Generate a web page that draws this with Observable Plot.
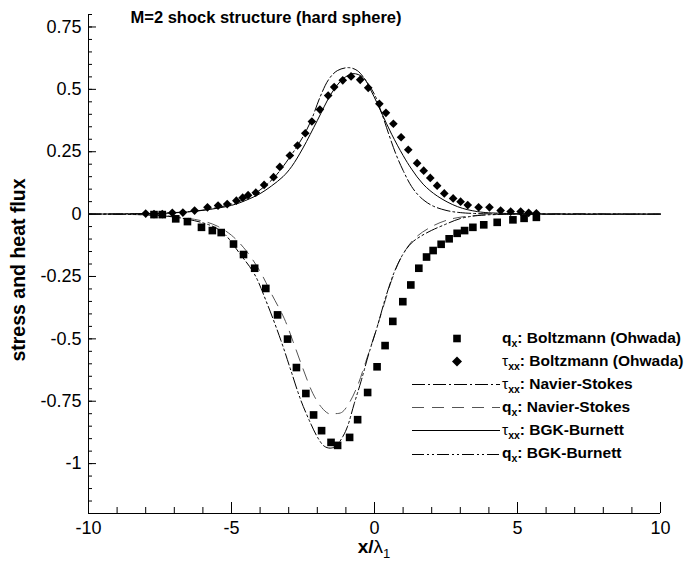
<!DOCTYPE html>
<html><head><meta charset="utf-8">
<script src="https://cdn.jsdelivr.net/npm/d3@7"></script>
<script src="https://cdn.jsdelivr.net/npm/@observablehq/plot@0.6"></script>
<style>
body{margin:0;background:#fff;}
#wrap{position:relative;width:688px;height:564px;font-family:"Liberation Sans",Arial,Helvetica,sans-serif;color:#000;overflow:hidden;}
.abs{position:absolute;white-space:nowrap;}
#title{left:266px;top:17px;font-weight:bold;font-size:16.5px;transform:translate(-50%,-50%);}
#ylab{left:18px;top:270px;font-weight:bold;font-size:19.5px;transform:translate(-50%,-50%) rotate(-90deg);}
#xlab{left:374px;top:548px;font-weight:bold;font-size:19px;transform:translate(-50%,-50%);}
#xlab .g{font-weight:normal;}
#xlab sub{font-size:13px;font-weight:normal;vertical-align:-5px;}
#legend{left:412px;top:327px;}
.row{display:flex;align-items:center;height:23.1px;}
.row svg{flex:none;}
.lab{font-weight:bold;font-size:15.5px;margin-left:2px;}
.lab .g{font-weight:normal;}
.lab sub{font-size:10.5px;vertical-align:-4px;}
</style></head><body><div id="wrap"></div>
<script>
// ---- tick values / labels ----
const xMajor = [-10, -5, 0, 5, 10];
const xMajorLabels = ["-10", "-5", "0", "5", "10"];
const xMinor = d3.range(-10, 10.001, 1);
const yMajor = [0.75, 0.5, 0.25, 0, -0.25, -0.5, -0.75, -1];
const yMajorLabels = ["0.75", "0.5", "0.25", "0", "-0.25", "-0.5", "-0.75", "-1"];
const yMinor = d3.range(-1.2, 0.8001, 0.05).map(v => +v.toFixed(2));

// ---- q_x : Boltzmann (Ohwada) squares ----
const qBoltzX = [-7.71,-7.42,-6.95,-6.54,-6.05,-5.67,-5.36,-4.93,-4.58,-4.19,-3.80,-3.39,-3.04,-2.73,-2.40,-2.13,-1.85,-1.52,-1.29,-0.87,-0.59,-0.24,0.09,0.37,0.64,0.99,1.27,1.55,1.82,2.05,2.33,2.61,2.89,3.15,3.44,3.82,4.29,4.84,5.23,5.66];
const qBoltzY = [-0.002,-0.002,-0.019,-0.030,-0.053,-0.066,-0.074,-0.120,-0.162,-0.217,-0.298,-0.404,-0.501,-0.615,-0.719,-0.805,-0.868,-0.915,-0.927,-0.895,-0.824,-0.715,-0.612,-0.527,-0.430,-0.351,-0.284,-0.217,-0.172,-0.146,-0.121,-0.099,-0.077,-0.066,-0.053,-0.043,-0.033,-0.023,-0.017,-0.013];

// ---- tau_xx : Boltzmann (Ohwada) diamonds ----
const tauBoltzX = [-8.00,-7.71,-7.42,-7.07,-6.70,-6.29,-5.84,-5.47,-5.15,-4.83,-4.61,-4.42,-4.15,-3.86,-3.53,-3.31,-2.96,-2.69,-2.42,-2.19,-1.91,-1.62,-1.41,-1.11,-0.82,-0.50,-0.22,0.17,0.40,0.66,0.93,1.18,1.49,1.72,1.95,2.19,2.44,2.75,3.01,3.26,3.64,4.02,4.41,4.76,5.11,5.39,5.66];
const tauBoltzY = [0.002,0.0,0.0,0.005,0.006,0.014,0.027,0.034,0.040,0.054,0.066,0.076,0.086,0.117,0.148,0.189,0.235,0.275,0.324,0.371,0.419,0.475,0.509,0.536,0.552,0.538,0.506,0.442,0.406,0.362,0.308,0.258,0.204,0.174,0.145,0.114,0.083,0.063,0.050,0.036,0.027,0.027,0.014,0.010,0.010,0.005,0.003];

// ---- tau_xx : Navier-Stokes (dash-dot) ----
const tauNSX = [-10,-8,-7,-6,-5,-4.5,-4,-3.5,-3,-2.5,-2.2,-1.9,-1.6,-1.3,-0.9,-0.6,-0.3,0,0.25,0.5,0.75,1.0,1.3,1.6,2.0,2.5,3,4,10];
const tauNSY = [0,0.002,0.006,0.016,0.04,0.062,0.097,0.148,0.222,0.31,0.38,0.47,0.54,0.575,0.587,0.575,0.535,0.48,0.405,0.32,0.24,0.175,0.11,0.068,0.035,0.015,0.006,0.001,0];

// ---- q_x : Navier-Stokes (dashed) ----
const qNSX = [-10,-8,-7,-6,-5.5,-5,-4.5,-4,-3.6,-3.15,-2.85,-2.5,-2.15,-1.85,-1.6,-1.4,-1.15,-0.9,-0.6,-0.3,0,0.3,0.6,0.95,1.4,2,2.6,3.3,4.5,10];
const qNSY = [0,-0.003,-0.01,-0.028,-0.048,-0.085,-0.145,-0.23,-0.32,-0.42,-0.51,-0.62,-0.72,-0.775,-0.80,-0.80,-0.795,-0.76,-0.69,-0.59,-0.485,-0.375,-0.265,-0.17,-0.098,-0.05,-0.022,-0.008,-0.001,0];

// ---- tau_xx : BGK-Burnett (solid) ----
const tauBGKX = [-10,-8,-7,-6,-5,-4.5,-4,-3.6,-3.2,-2.9,-2.5,-2.0,-1.5,-1.1,-0.75,-0.4,-0.1,0.25,0.6,1.0,1.3,1.7,2.2,2.9,3.6,4.5,10];
const tauBGKY = [0,0.002,0.005,0.015,0.035,0.055,0.082,0.113,0.15,0.19,0.265,0.375,0.485,0.542,0.563,0.548,0.49,0.405,0.32,0.235,0.18,0.12,0.072,0.03,0.01,0.003,0];

// ---- q_x : BGK-Burnett (dash-dot-dot) ----
const qBGKX = [-10,-8,-7,-6,-5.5,-5.2,-4.7,-4.2,-3.75,-3.27,-2.92,-2.57,-2.22,-1.99,-1.76,-1.55,-1.35,-1.1,-0.94,-0.71,-0.47,-0.2,0.1,0.4,0.7,1.0,1.3,1.6,2.0,2.4,3.0,3.6,4.5,10];
const qBGKY = [0,-0.003,-0.012,-0.035,-0.058,-0.085,-0.16,-0.24,-0.36,-0.507,-0.628,-0.748,-0.842,-0.895,-0.93,-0.938,-0.93,-0.89,-0.85,-0.76,-0.67,-0.56,-0.45,-0.33,-0.23,-0.16,-0.115,-0.09,-0.065,-0.045,-0.018,-0.006,-0.001,0];

// ---- legend ----
const legendLabels = [
  'q<sub>x</sub>: Boltzmann (Ohwada)',
  '<span class="g">&tau;</span><sub>xx</sub>: Boltzmann (Ohwada)',
  '<span class="g">&tau;</span><sub>xx</sub>: Navier-Stokes',
  'q<sub>x</sub>: Navier-Stokes',
  '<span class="g">&tau;</span><sub>xx</sub>: BGK-Burnett',
  'q<sub>x</sub>: BGK-Burnett'
];
const legendKinds = ["square", "diamond2", "tauNS", "qNS", "tauBGK", "qBGK"];

const styles = {
  tauNS: {stroke: "#000", dash: "13,3,2,3"},
  qNS: {stroke: "#555", dash: "12,8"},
  tauBGK: {stroke: "#000", dash: null},
  qBGK: {stroke: "#000", dash: "12,3,2,3,2,3"}
};

const zip = (xs, ys) => xs.map((x, i) => ({x, y: ys[i]}));
const lineMark = (xs, ys, key) => Plot.line(zip(xs, ys), {
  x: "x", y: "y", stroke: styles[key].stroke, strokeWidth: 1,
  strokeDasharray: styles[key].dash, curve: "catmull-rom"
});

const chart = Plot.plot({
  width: 688, height: 564,
  marginLeft: 88, marginRight: 28, marginTop: 14, marginBottom: 51,
  x: {domain: [-10, 10]},
  y: {domain: [-1.2, 0.8]},
  style: {fontFamily: '"Liberation Sans", Arial, sans-serif', fontSize: "18px", color: "#000", background: "#fff"},
  marks: [
    Plot.axisX(xMinor, {tickSize: 6, insetBottom: 6, tickFormat: () => "", label: null}),
    Plot.axisX(xMajor, {tickSize: 11, insetBottom: 11, tickFormat: () => "", label: null}),
    Plot.axisX(xMajor, {tickSize: 0, tickPadding: 8, tickFormat: (d, i) => xMajorLabels[i], label: null, fontSize: 18}),
    Plot.axisY(yMinor, {tickSize: 4, insetLeft: 4, tickFormat: () => "", label: null}),
    Plot.axisY(yMajor, {tickSize: 8, insetLeft: 8, tickFormat: () => "", label: null}),
    Plot.axisY(yMajor, {tickSize: 0, tickPadding: 7, tickFormat: (d, i) => yMajorLabels[i], label: null, fontSize: 18}),
    Plot.ruleX([-10], {stroke: "#000"}),
    Plot.ruleY([-1.2], {stroke: "#000"}),
    lineMark(tauNSX, tauNSY, "tauNS"),
    lineMark(qNSX, qNSY, "qNS"),
    lineMark(tauBGKX, tauBGKY, "tauBGK"),
    lineMark(qBGKX, qBGKY, "qBGK"),
    Plot.dot(zip(qBoltzX, qBoltzY), {x: "x", y: "y", symbol: "square", r: 4.3, fill: "#000", stroke: "none"}),
    Plot.dot(zip(tauBoltzX, tauBoltzY), {x: "x", y: "y", symbol: "diamond2", r: 3.9, fill: "#000", stroke: "none"})
  ]
});

const wrap = document.getElementById("wrap");
wrap.appendChild(chart);

function addDiv(id, html) {
  const d = document.createElement("div");
  d.id = id; d.className = "abs"; d.innerHTML = html;
  wrap.appendChild(d);
  return d;
}
addDiv("title", "M=2 shock structure (hard sphere)");
addDiv("ylab", "stress and heat flux");
addDiv("xlab", 'x/<span class="g">&lambda;</span><sub>1</sub>');

const leg = addDiv("legend", "");
legendLabels.forEach((lab, i) => {
  const row = document.createElement("div");
  row.className = "row";
  const k = legendKinds[i];
  const svg = d3.create("svg").attr("width", 88).attr("height", 23);
  if (k === "square") {
    svg.append("rect").attr("x", 45 - 3.8).attr("y", 11.5 - 3.8).attr("width", 7.6).attr("height", 7.6).attr("fill", "#000");
  } else if (k === "diamond2") {
    svg.append("path").attr("d", "M45,6.5L50,11.5L45,16.5L40,11.5Z").attr("fill", "#000");
  } else {
    svg.append("line").attr("x1", 0).attr("x2", 88).attr("y1", 11.5).attr("y2", 11.5)
      .attr("stroke", styles[k].stroke).attr("stroke-width", 1)
      .attr("stroke-dasharray", styles[k].dash);
  }
  row.appendChild(svg.node());
  const span = document.createElement("span");
  span.className = "lab"; span.innerHTML = lab;
  row.appendChild(span);
  leg.appendChild(row);
});
</script>
</body></html>
